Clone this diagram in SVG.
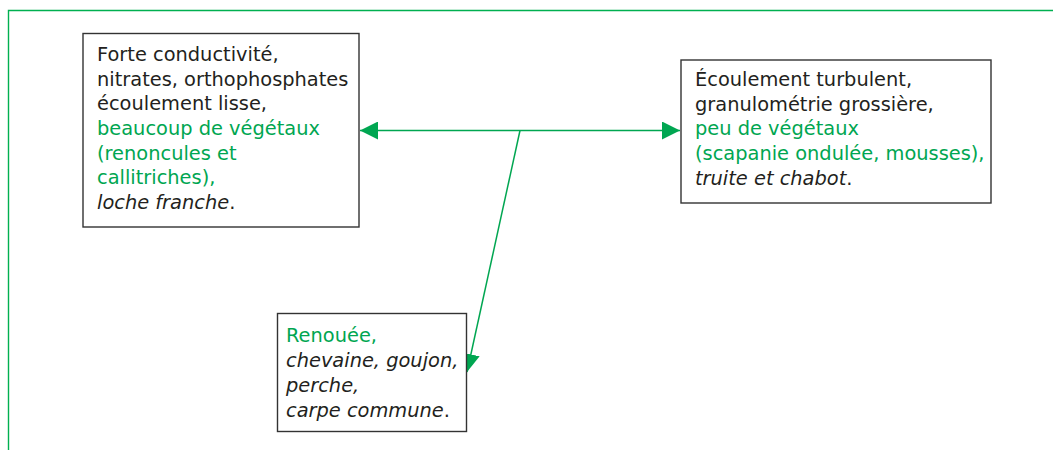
<svg xmlns="http://www.w3.org/2000/svg" width="1053" height="450" viewBox="0 0 1053 450">
<style>
.box{fill:#fff;stroke:#333;stroke-width:1.4}
.t{font-family:"DejaVu Sans",sans-serif;font-size:19.4px;fill:#231f20}
.g{fill:#00a651}
.i{font-style:italic}
.con{stroke:#00a651;stroke-width:1.5;fill:none}
</style>
<defs>
<marker id="ah" viewBox="0 0 10 10" refX="10" refY="5" markerWidth="18" markerHeight="18" markerUnits="userSpaceOnUse" orient="auto-start-reverse">
<path d="M0,0 L10,5 L0,10 Z" fill="#00a651"/>
</marker>
</defs>
<rect width="1053" height="450" fill="#fff"/>
<path d="M8.5,460 V10.5 H1060" fill="none" stroke="#00b050" stroke-width="1.4"/>
<g id="connectors">
<line class="con" x1="360" y1="130.5" x2="680" y2="130.5" marker-start="url(#ah)" marker-end="url(#ah)"/>
<line class="con" x1="520" y1="130.5" x2="467" y2="372" marker-end="url(#ah)"/>
</g>
<g id="node-left">
<rect class="box" x="83" y="33.5" width="276" height="193.5"/>
<text class="t" x="97" y="61">Forte conductivité,</text>
<text class="t" x="97" y="85.5">nitrates, orthophosphates</text>
<text class="t" x="97" y="110">écoulement lisse,</text>
<text class="t g" x="97" y="135">beaucoup de végétaux</text>
<text class="t g" x="97" y="159.5">(renoncules et</text>
<text class="t g" x="97" y="184">callitriches),</text>
<text class="t" x="97" y="209"><tspan class="i">loche franche</tspan>.</text>
</g>
<g id="node-right">
<rect class="box" x="681" y="60" width="310" height="143"/>
<text class="t" x="695" y="86">Écoulement turbulent,</text>
<text class="t" x="695" y="110.5">granulométrie grossière,</text>
<text class="t g" x="695" y="135">peu de végétaux</text>
<text class="t g" x="695" y="160">(scapanie ondulée, mousses),</text>
<text class="t" x="695" y="185"><tspan class="i">truite et chabot</tspan>.</text>
</g>
<g id="node-bottom">
<rect class="box" x="277.5" y="313.5" width="189" height="118"/>
<text class="t g" x="286" y="342">Renouée,</text>
<text class="t i" x="286" y="367">chevaine, goujon,</text>
<text class="t i" x="286" y="391.5">perche,</text>
<text class="t" x="286" y="416.5"><tspan class="i">carpe commune</tspan>.</text>
</g>
</svg>
